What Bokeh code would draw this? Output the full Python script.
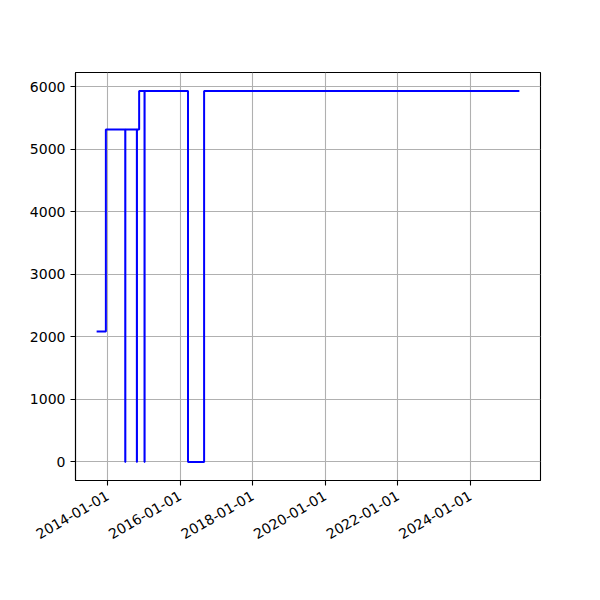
import math
from datetime import datetime
from bokeh.plotting import figure
from bokeh.models import Range1d, FixedTicker, DatetimeTickFormatter, ColumnDataSource
from bokeh.embed import file_html
from bokeh.resources import INLINE

# data (step-post series)
dates = [
    "2013-09-12", "2013-12-14", "2014-06-27", "2014-06-28",
    "2014-10-22", "2014-10-23", "2014-11-14", "2015-01-07",
    "2015-01-08", "2016-03-20", "2016-08-29", "2025-05-08",
]
values = [2088, 5318, 0, 5318, 0, 5318, 5933, 0, 5933, 0, 5933, 5933]
x_tick_dates = ["2014-01-01", "2016-01-01", "2018-01-01", "2020-01-01", "2022-01-01", "2024-01-01"]
y_ticks = [0, 1000, 2000, 3000, 4000, 5000, 6000]

def ms(s):
    return (datetime.strptime(s, "%Y-%m-%d") - datetime(1970, 1, 1)).total_seconds() * 1000.0

xs = [ms(d) for d in dates]
src = ColumnDataSource(dict(x=xs, y=values))

xmin, xmax = min(xs), max(xs)
ymin, ymax = min(values), max(values)
xpad = (xmax - xmin) * 0.05
ypad = (ymax - ymin) * 0.05

p = figure(width=592, height=592, x_axis_type="datetime",
           output_backend="svg", toolbar_location=None,
           x_range=Range1d(xmin - xpad, xmax + xpad),
           y_range=Range1d(ymin - ypad, ymax + ypad),
           min_border_left=75, min_border_right=52,
           min_border_top=72, min_border_bottom=112)
p.background_fill_color = "white"
p.border_fill_color = "white"
p.outline_line_color = "black"
p.outline_line_width = 1.1

p.step("x", "y", source=src, mode="after", line_color="blue", line_width=2)

p.xaxis.ticker = FixedTicker(ticks=[ms(d) for d in x_tick_dates])
fmt = "%Y-%m-%d"
p.xaxis.formatter = DatetimeTickFormatter(years=fmt, months=fmt, days=fmt, hours=fmt,
                                          hourmin=fmt, minutes=fmt, minsec=fmt, seconds=fmt,
                                          milliseconds=fmt, microseconds=fmt, context=None)
p.xaxis.major_label_orientation = math.pi / 6
p.yaxis.ticker = FixedTicker(ticks=y_ticks)

for ax in (p.xaxis, p.yaxis):
    ax.axis_line_color = "black"
    ax.axis_line_width = 1.1
    ax.major_tick_line_color = "black"
    ax.major_tick_line_width = 1.1
    ax.major_tick_out = 5
    ax.major_tick_in = 0
    ax.minor_tick_line_color = None
    ax.major_label_text_font = "DejaVu Sans"
    ax.major_label_text_font_size = "14px"
    ax.major_label_text_color = "black"
    ax.major_label_standoff = 5
p.xaxis.major_label_standoff = 9

for g in (p.xgrid, p.ygrid):
    g.grid_line_color = "#b0b0b0"
    g.grid_line_width = 1.1

open("out.html", "w").write(file_html(p, INLINE))
